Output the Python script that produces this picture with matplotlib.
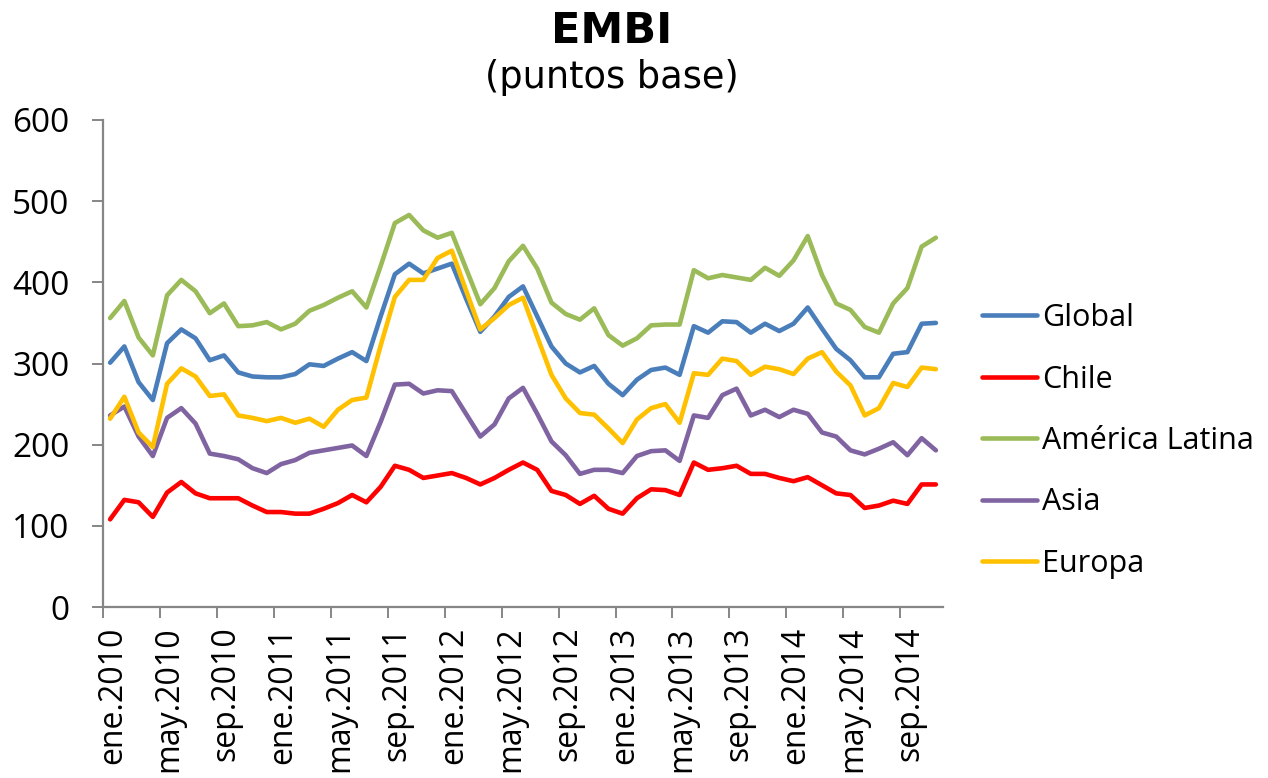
import matplotlib
matplotlib.use("Agg")
import matplotlib.pyplot as plt
import numpy as np

plt.rcParams["font.family"] = ["Open Sans", "DejaVu Sans"]

# ── Data (monthly, ene.2010 .. nov.2014) ──
month_abbr = ["ene", "feb", "mar", "abr", "may", "jun",
              "jul", "ago", "sep", "oct", "nov", "dic"]
months = [f"{month_abbr[m]}.{y}" for y in range(2010, 2015) for m in range(12)][:59]

global_embi = [301, 321, 277, 255, 325, 342, 331, 304, 310, 289,
               284, 283, 283, 287, 299, 297, 306, 314, 303, 358,
               410, 423, 411, 417, 423, 380, 339, 358, 382, 395,
               358, 321, 300, 289, 297, 275, 261, 280, 292, 295,
               286, 346, 338, 352, 351, 338, 349, 340, 349, 369,
               343, 318, 304, 283, 283, 312, 314, 349, 350]
chile = [108, 132, 129, 111, 141, 154, 140, 134, 134, 134,
         125, 117, 117, 115, 115, 121, 128, 138, 129, 148,
         174, 169, 159, 162, 165, 159, 151, 159, 169, 178,
         169, 143, 138, 127, 137, 121, 115, 134, 145, 144,
         138, 178, 169, 171, 174, 164, 164, 159, 155, 160,
         150, 140, 138, 122, 125, 131, 127, 151, 151]
america_latina = [356, 377, 332, 310, 384, 403, 389, 362, 374, 346,
                  347, 351, 342, 349, 365, 372, 381, 389, 369, 420,
                  473, 483, 464, 455, 461, 417, 373, 393, 426, 445,
                  417, 375, 361, 354, 368, 335, 322, 331, 347, 348,
                  348, 415, 405, 409, 406, 403, 418, 408, 427, 457,
                  409, 374, 366, 345, 338, 374, 393, 444, 455]
asia = [236, 247, 210, 186, 233, 245, 226, 189, 186, 182,
        171, 165, 176, 181, 190, 193, 196, 199, 186, 228,
        274, 275, 263, 267, 266, 238, 210, 225, 257, 270,
        238, 204, 187, 164, 169, 169, 165, 186, 192, 193,
        180, 236, 233, 261, 269, 236, 243, 234, 243, 238,
        215, 210, 193, 188, 195, 203, 187, 208, 193]
europa = [232, 259, 215, 197, 275, 294, 284, 260, 262, 236,
          233, 229, 233, 227, 232, 222, 243, 255, 258, 322,
          382, 403, 403, 430, 439, 390, 342, 356, 372, 381,
          333, 286, 257, 239, 237, 220, 202, 231, 245, 250,
          227, 288, 286, 306, 303, 286, 296, 293, 287, 306,
          314, 290, 273, 236, 245, 276, 271, 295, 293]

series = [
    ("Global", global_embi, "#4A7EBB"),
    ("Chile", chile, "#FF0000"),
    ("América Latina", america_latina, "#9BBB59"),
    ("Asia", asia, "#8064A2"),
    ("Europa", europa, "#FFC000"),
]

W, H = 1268, 778
fig = plt.figure(figsize=(W / 100, H / 100), dpi=100)
ax = fig.add_axes([103 / W, (H - 607) / H, 840 / W, 487 / H])

x = np.arange(len(months))
for name, vals, col in series:
    ax.plot(x, vals, color=col, lw=3.3, label=name,
            solid_joinstyle="round", solid_capstyle="round")

grey = "#868686"
ax.set_xlim(-0.5, len(months) - 0.5)
ax.set_ylim(0, 600)
ax.set_yticks(range(0, 601, 100))
ax.tick_params(axis="y", direction="out", length=8, width=1.4, color=grey,
               pad=16, labelsize=24)

label_idx = list(range(0, len(months), 4))
ax.set_xticks([i + 0.15 for i in label_idx])
ax.set_xticklabels([months[i] for i in label_idx], rotation=90,
                   fontsize=23)
ax.set_xticks(np.arange(-0.5, len(months), 4), minor=True)
ax.tick_params(axis="x", which="major", length=0, pad=14)
ax.tick_params(axis="x", which="minor", direction="out", length=8,
               width=1.4, color=grey)

for side in ["top", "right"]:
    ax.spines[side].set_visible(False)
for side in ["left", "bottom"]:
    ax.spines[side].set_color(grey)
    ax.spines[side].set_linewidth(1.6)

fig.text(612 / W, 1 - 31 / H, "EMBI", ha="center", va="center",
         fontsize=31, fontweight="bold", family="DejaVu Sans")
fig.text(612 / W, 1 - 78 / H, "(puntos base)", ha="center", va="center",
         fontsize=26.5, family="DejaVu Sans")

leg = fig.legend(loc="center left", bbox_to_anchor=(982 / W, 1 - 441 / H),
                 frameon=False, fontsize=22, handlelength=1.8,
                 handletextpad=0.16, labelspacing=1.03, borderaxespad=0,
                 borderpad=0)

fig.savefig("out.png", dpi=100)
